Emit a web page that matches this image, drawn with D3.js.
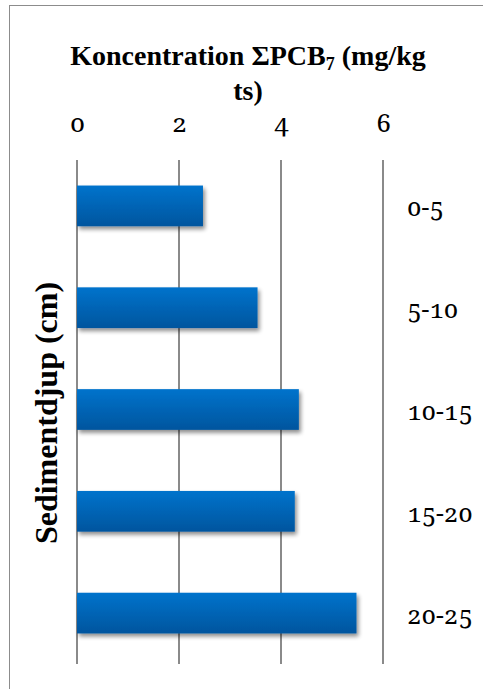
<!DOCTYPE html>
<html>
<head>
<meta charset="utf-8">
<script src="https://cdn.jsdelivr.net/npm/d3@7"></script>
<style>
  html, body { margin: 0; padding: 0; background: #fff; }
  svg { display: block; }
</style>
</head>
<body>
<svg id="chart" width="483" height="689"></svg>
<script>
// Sediment depth intervals (cm) and ΣPCB7 concentrations (mg/kg ts)
const depths = ["0-5", "5-10", "10-15", "15-20", "20-25"];
const concentrations = [2.47, 3.54, 4.35, 4.27, 5.48];
const xTicks = [0, 2, 4, 6];

const svg = d3.select("#chart");
const W = 483, H = 689;
const plot = { left: 77, right: 383, top: 155, bottom: 664 };
const labelFont = '"Noto Serif"';
const titleFont = '"Liberation Serif"';

// Frame around the chart area
svg.append("rect")
  .attr("x", 9.5).attr("y", 5.5)
  .attr("width", W + 20).attr("height", H + 20)
  .attr("fill", "none").attr("stroke", "#8c8c8c").attr("stroke-width", 1);

const x = d3.scaleLinear().domain([0, 6]).range([plot.left, plot.right]);
const y = d3.scaleBand().domain(depths).range([plot.top, plot.bottom]).paddingInner(0.6).paddingOuter(0.3);

// Bar fill gradient and soft shadow
const defs = svg.append("defs");
const grad = defs.append("linearGradient").attr("id", "barGrad")
  .attr("x1", 0).attr("y1", 0).attr("x2", 0).attr("y2", 1);
grad.append("stop").attr("offset", "0%").attr("stop-color", "#0073CC");
grad.append("stop").attr("offset", "100%").attr("stop-color", "#00559E");

const shadow = defs.append("filter").attr("id", "barShadow")
  .attr("x", "-10%").attr("y", "-20%").attr("width", "130%").attr("height", "160%");
shadow.append("feGaussianBlur").attr("in", "SourceAlpha").attr("stdDeviation", 2.2).attr("result", "blur");
shadow.append("feOffset").attr("in", "blur").attr("dx", 2).attr("dy", 3).attr("result", "off");
shadow.append("feComponentTransfer").attr("in", "off").attr("result", "soft")
  .append("feFuncA").attr("type", "linear").attr("slope", 0.45);
const merge = shadow.append("feMerge");
merge.append("feMergeNode").attr("in", "soft");
merge.append("feMergeNode").attr("in", "SourceGraphic");

// Vertical gridlines
svg.append("g")
  .selectAll("line")
  .data(xTicks)
  .join("line")
  .attr("x1", d => x(d)).attr("x2", d => x(d))
  .attr("y1", 160).attr("y2", plot.bottom)
  .attr("stroke", "#8a8a8a").attr("stroke-width", 2);

// Top axis labels
const xAxis = d3.axisTop(x).tickValues(xTicks).tickSize(0).tickPadding(0).tickFormat(d3.format("d"));
const gx = svg.append("g").attr("transform", "translate(0,132)").call(xAxis)
  .attr("font-family", null).attr("font-size", null);
gx.select(".domain").remove();
gx.selectAll("text")
  .style("font-family", labelFont)
  .style("font-size", "26px")
  .style("font-weight", "400")
  .style("font-variant-numeric", "oldstyle-nums")
  .attr("fill", "#000").attr("dy", 0);

// Bars
svg.append("g")
  .selectAll("rect")
  .data(concentrations)
  .join("rect")
  .attr("x", x(0))
  .attr("y", (d, i) => y(depths[i]))
  .attr("width", d => x(d) - x(0))
  .attr("height", y.bandwidth())
  .attr("fill", "url(#barGrad)")
  .attr("filter", "url(#barShadow)");

// Category labels on the right
const yAxis = d3.axisRight(y).tickSize(0).tickPadding(0);
const gy = svg.append("g").attr("transform", "translate(407,0)").call(yAxis)
  .attr("font-family", null).attr("font-size", null);
gy.select(".domain").remove();
gy.selectAll("text")
  .style("font-family", labelFont)
  .style("font-size", "25px")
  .style("font-weight", "400")
  .style("font-variant-numeric", "oldstyle-nums")
  .attr("fill", "#000").attr("dy", "0.42em");

// Chart title
const title = svg.append("text")
  .attr("x", 248).attr("y", 65)
  .attr("text-anchor", "middle")
  .style("font-family", titleFont)
  .style("font-weight", "bold").style("font-size", "28px").attr("fill", "#000");
title.append("tspan").text("Koncentration ΣPCB");
title.append("tspan").style("font-size", "18px").attr("dy", 5).text("7");
title.append("tspan").attr("dy", -5).text(" (mg/kg");
svg.append("text")
  .attr("x", 248).attr("y", 100)
  .attr("text-anchor", "middle")
  .style("font-family", titleFont)
  .style("font-weight", "bold").style("font-size", "28px").attr("fill", "#000")
  .text("ts)");

// Vertical axis title
svg.append("text")
  .attr("transform", "translate(57,413) rotate(-90)")
  .attr("text-anchor", "middle")
  .style("font-family", titleFont)
  .style("font-weight", "bold").style("font-size", "32px").attr("fill", "#000")
  .text("Sedimentdjup (cm)");
</script>
</body>
</html>
